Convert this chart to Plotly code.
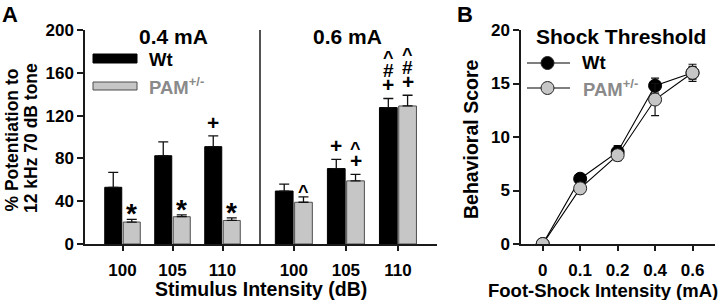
import plotly.graph_objects as go

# ---------------- data ----------------
stim_labels = ["100", "105", "110"]
wt_04 = [53, 82.5, 91]
wt_04_err = [14, 13, 10]
pam_04 = [20.5, 25.5, 22]
pam_04_err = [2.5, 1.8, 2.5]
wt_06 = [49.5, 70.5, 127.5]
wt_06_err = [6.5, 8.5, 8.5]
pam_06 = [39, 59, 129]
pam_06_err = [5, 6, 10]
sig_wt_04 = ["", "", "+"]
sig_pam_04 = ["*", "*", "*"]
sig_wt_06 = ["", "+", "+#^"]
sig_pam_06 = ["^", "+^", "+#^"]

shock_labels = ["0", "0.1", "0.2", "0.4", "0.6"]
wt_score = [0, 6.1, 8.6, 14.8, 16.0]
wt_score_err = [0, 0.4, 0.6, 0.7, 0.6]
pam_score = [0, 5.2, 8.3, 13.5, 16.0]
pam_score_err = [0, 0.5, 0.5, 1.5, 0.8]

yticks_a = [0, 40, 80, 120, 160, 200]
yticks_b = [0, 5, 10, 15, 20]

# ---------------- style ----------------
W, H = 720, 300
FONT = "Liberation Sans, Arial, sans-serif"
AX = "#1a1a1a"
GRAY = "#c6c6c6"
GRAY_EDGE = "#4d4d4d"
GRAY_TEXT = "#8a8a8a"


def px(x):
    return x / W


def py(y):
    return 1 - y / H


ydom = [py(244), py(30)]

fig = go.Figure()


def bar(x_ax, vals, errs, color, edge, name):
    fig.add_trace(go.Bar(
        x=stim_labels, y=vals, name=name, xaxis=x_ax, yaxis="y",
        marker=dict(color=color, line=dict(color=edge, width=1)),
        error_y=dict(type="data", array=errs, arrayminus=[0] * len(errs), symmetric=False,
                     color="#111", thickness=1.3, width=5),
        showlegend=False,
    ))


bar("x", wt_04, wt_04_err, "black", "black", "Wt")
bar("x", pam_04, pam_04_err, GRAY, GRAY_EDGE, "PAM+/-")
bar("x2", wt_06, wt_06_err, "black", "black", "Wt")
bar("x2", pam_06, pam_06_err, GRAY, GRAY_EDGE, "PAM+/-")

fig.add_trace(go.Scatter(
    x=shock_labels, y=wt_score, mode="lines+markers", xaxis="x3", yaxis="y3", name="Wt",
    line=dict(color="black", width=1.1),
    marker=dict(color="black", size=13, line=dict(color="black", width=1)),
    error_y=dict(type="data", array=wt_score_err, color="#111", thickness=1.2, width=4),
    showlegend=False,
))
fig.add_trace(go.Scatter(
    x=shock_labels, y=pam_score, mode="lines+markers", xaxis="x3", yaxis="y3", name="PAM+/-",
    line=dict(color="black", width=1.1),
    marker=dict(color=GRAY, size=13, line=dict(color="#222", width=1)),
    error_y=dict(type="data", array=pam_score_err, color="#111", thickness=1.2, width=4),
    showlegend=False,
))

tickfont = dict(family=FONT, size=17, color="black", weight="bold")
common_x = dict(showline=True, linecolor=AX, linewidth=1.5, ticks="outside", ticklen=5,
                tickwidth=1.5, tickcolor=AX, tickfont=tickfont, showgrid=False,
                zeroline=False, automargin=False, ticklabelstandoff=5, fixedrange=True)
common_y = dict(showline=True, linecolor=AX, linewidth=1.5, ticks="outside", ticklen=6,
                tickwidth=1.5, tickcolor=AX, tickfont=tickfont, showgrid=False,
                zeroline=False, automargin=False, domain=ydom, fixedrange=True)

fig.update_layout(
    width=W, height=H, margin=dict(l=0, r=0, t=0, b=0),
    paper_bgcolor="white", plot_bgcolor="white",
    barmode="group", bargap=0.26, bargroupgap=0.08,
    font=dict(family=FONT, color="black"),
    xaxis=dict(common_x, domain=[px(85), px(260)], range=[-0.75, 2.75], anchor="y"),
    xaxis2=dict(common_x, domain=[px(260), px(437)], range=[-0.65, 2.75], anchor="y"),
    yaxis=dict(common_y, range=[0, 200], tickvals=yticks_a, anchor="x"),
    xaxis3=dict(common_x, domain=[px(521), px(715)], range=[-0.58, 4.6], anchor="y3"),
    yaxis3=dict(common_y, range=[0, 20], tickvals=yticks_b, anchor="x3"),
)

# separator line in panel A
fig.add_shape(type="line", xref="paper", yref="y", x0=px(260), x1=px(260), y0=0, y1=200,
              line=dict(color=AX, width=1.5))

ann = []


def text(x, y, s, size, color="black", angle=0, xanchor="center", yanchor="middle"):
    ann.append(dict(x=x, y=y, xref="paper", yref="paper",
                    text=s, showarrow=False, textangle=angle, xanchor=xanchor, yanchor=yanchor,
                    font=dict(family=FONT, size=size, color=color, weight="bold")))


# panel letters and titles
text(px(10), py(0), "A", 22, yanchor="top")
text(px(465), py(0), "B", 22, yanchor="top")
text(px(173), py(37), "0.4 mA", 21)
text(px(347), py(37), "0.6 mA", 21)
text(px(621), py(37), "Shock Threshold", 21)

# axis titles
text(px(261), py(289), "Stimulus Intensity (dB)", 19.5)
text(px(603), py(290), "Foot-Shock Intensity (mA)", 18.5)
text(px(11.5), py(140), "% Potentiation to", 17.5, angle=-90)
text(px(31), py(138), "12 kHz 70 dB tone", 17.5, angle=-90)
text(px(471), py(140), "Behavioral Score", 19.5, angle=-90)

# significance markers
sym_size = {"*": 28, "+": 21, "#": 19, "^": 18}
glyph_center = {"*": 22, "+": 13, "#": 13, "^": 15}   # glyph centre above box bottom (px)
first_gap = {"*": 10, "+": 13, "^": 8}                # glyph centre above error-bar top (px)
STACK = 15


def sig(xref, offs, vals, errs, marks):
    for i, (v, e, m) in enumerate(zip(vals, errs, marks)):
        if not m:
            continue
        target = first_gap[m[0]]
        for ch in m:
            ann.append(dict(x=i + offs, y=v + e, xref=xref, yref="y", text=ch, showarrow=False,
                            xanchor="center", yanchor="bottom", yshift=target - glyph_center[ch],
                            font=dict(family=FONT, size=sym_size[ch], color="black", weight="bold")))
            target += STACK


sig("x", -0.185, wt_04, wt_04_err, sig_wt_04)
sig("x", 0.185, pam_04, pam_04_err, sig_pam_04)
sig("x2", -0.185, wt_06, wt_06_err, sig_wt_06)
sig("x2", 0.185, pam_06, pam_06_err, sig_pam_06)

# legend A
fig.add_shape(type="rect", xref="paper", yref="paper", x0=px(93), x1=px(137), y0=py(63), y1=py(54),
              fillcolor="black", line=dict(color="black", width=1))
fig.add_shape(type="rect", xref="paper", yref="paper", x0=px(93), x1=px(137), y0=py(90), y1=py(82),
              fillcolor=GRAY, line=dict(color=GRAY_EDGE, width=1))
text(px(147), py(59), "Wt", 18.5, xanchor="left")
text(px(147), py(86), "PAM<sup>+/-</sup>", 18.5, color=GRAY_TEXT, xanchor="left")

# legend B
for yy, fill in [(63, "black"), (88, GRAY)]:
    fig.add_shape(type="line", xref="paper", yref="paper", x0=px(527), x1=px(570), y0=py(yy), y1=py(yy),
                  line=dict(color="black", width=1.1))
    fig.add_shape(type="circle", xref="paper", yref="paper", x0=px(541), x1=px(554),
                  y0=py(yy + 6.5), y1=py(yy - 6.5), fillcolor=fill, line=dict(color="#222", width=1))
text(px(580), py(62), "Wt", 18.5, xanchor="left")
text(px(581), py(88), "PAM<sup>+/-</sup>", 18.5, color=GRAY_TEXT, xanchor="left")

fig.update_layout(annotations=ann)
fig.write_html("out.html", config={"displayModeBar": False},
               post_script="document.body.style.margin='0';document.body.style.overflow='hidden';")
